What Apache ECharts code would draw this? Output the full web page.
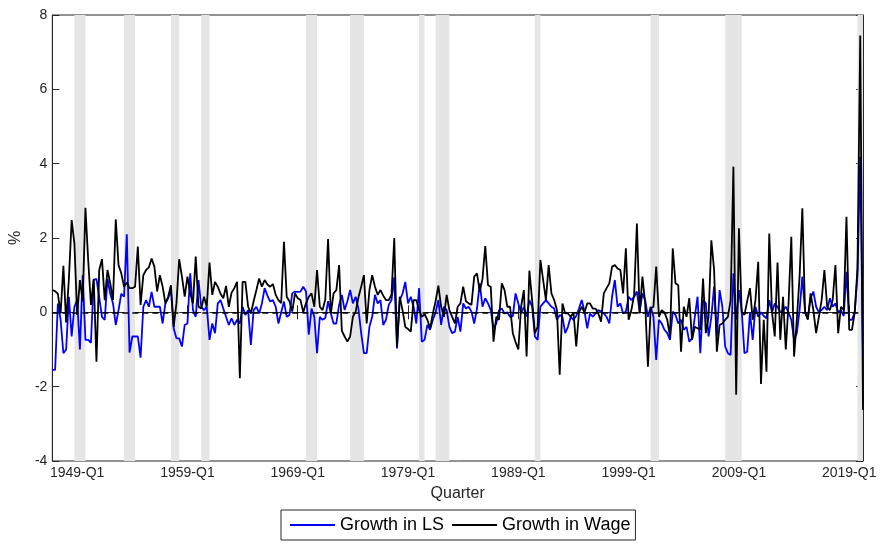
<!DOCTYPE html>
<html>
<head>
<meta charset="utf-8">
<script src="https://cdn.jsdelivr.net/npm/echarts@6.0.0/dist/echarts.min.js"></script>
<style>
  html, body { margin: 0; padding: 0; background: #fff; }
  #chart { width: 882px; height: 546px; }
</style>
</head>
<body>
<div id="chart"></div>
<script>
// quarters from 1946-Q4 to 2020-Q2
var quarters = [];
for (var y = 1946; y <= 2020; y++) {
  for (var q = 1; q <= 4; q++) {
    if (y === 1946 && q < 4) continue;
    if (y === 2020 && q > 2) continue;
    quarters.push(y + '-Q' + q);
  }
}

var tickLabels = ['1949-Q1', '1959-Q1', '1969-Q1', '1979-Q1', '1989-Q1', '1999-Q1', '2009-Q1', '2019-Q1'];

// NBER recessions (peak, trough)
var recessions = [
  ['1948-Q4', '1949-Q4'], ['1953-Q2', '1954-Q2'], ['1957-Q3', '1958-Q2'],
  ['1960-Q2', '1961-Q1'], ['1969-Q4', '1970-Q4'], ['1973-Q4', '1975-Q1'],
  ['1980-Q1', '1980-Q3'], ['1981-Q3', '1982-Q4'], ['1990-Q3', '1991-Q1'],
  ['2001-Q1', '2001-Q4'], ['2007-Q4', '2009-Q2'], ['2019-Q4', '2020-Q2']
];

var lsGrowth = [
  -1.55, -1.55, 0.24, -0.2, -1.1, -1.0, 0.42, -0.65, 0.15, 0.33,
  -1.0, 1.0, -0.74, -0.74, -0.82, 0.87, 0.9, 0.4, -0.12, -0.2,
  0.9, 0.5, 0.24, -0.34, 0.06, 0.5, 0.42, 2.1, -1.08, -0.65,
  -0.65, -0.65, -1.22, 0.15, 0.33, 0.15, 0.55, 0.15, 0.15, 0.15,
  -0.3, 0.24, 0.38, 0.6, -0.43, -0.7, -0.7, -0.92, -0.34, -0.3,
  1.05, 0.06, -0.12, 0.87, 0.15, 0.06, 0.15, -0.74, -0.3, -0.56,
  0.24, 0.33, 0.1, -0.12, -0.34, -0.16, -0.34, -0.2, -0.3, 0.15,
  -0.07, 0.06, -0.88, 0.06, 0.15, -0.03, 0.24, 0.65, 0.45, 0.29,
  0.33, 0.15, -0.3, 0.0, 0.29, -0.12, -0.07, 0.51, 0.56, 0.55,
  0.56, 0.69, 0.56, -0.6, 0.1, -0.12, -1.1, -0.12, -0.2, -0.15,
  0.3, -0.03, -0.3, -0.3, 0.2, 0.47, 0.06, 0.3, 0.6, 0.24,
  0.42, 0.1, -0.56, -1.1, -1.1, -0.39, -0.12, 0.47, 0.24, 0.33,
  -0.34, -0.2, 0.2, 0.33, 0.94, -0.97, 0.33, 0.5, 0.82, 0.24,
  0.42, 0.15, -0.3, 0.65, -0.79, -0.74, -0.34, -0.47, -0.2, 0.0,
  0.33, -0.34, 0.15, 0.06, -0.39, -0.56, -0.52, -0.12, -0.52, 0.24,
  0.1, 0.15, 0.02, -0.3, 0.1, 0.78, 0.15, 0.38, 0.24, 0.06,
  -0.43, -0.3, 0.06, 0.1, -0.03, 0.0, -0.12, -0.1, 0.51, 0.24,
  -0.03, 0.15, -0.12, 0.33, 0.15, -0.65, -0.74, 0.15, 0.24, 0.33,
  0.24, 0.15, 0.1, -0.2, -0.07, -0.12, -0.56, -0.39, -0.12, -0.2,
  -0.1, 0.1, 0.33, 0.02, -0.43, -0.03, -0.12, -0.03, 0.06, 0.02,
  -0.03, -0.12, -0.3, 0.42, 0.87, 0.15, 0.24, -0.03, 0.02, 0.42,
  0.33, 0.42, 0.56, 0.02, 0.51, 0.33, -0.12, 0.15, -0.12, -1.28,
  -0.2, -0.3, -0.47, -0.56, -0.74, 0.02, -0.07, -0.3, -0.2, -0.47,
  -0.39, -0.79, -0.7, -0.12, 0.42, -1.1, 0.33, 0.24, -0.65, -0.12,
  0.69, -0.65, 0.6, 0.15, -0.92, -1.1, -1.15, 1.05, -0.2, 0.6,
  0.06, -1.1, -1.06, 0.0, -0.74, 0.15, -0.12, 0.0, -0.1, -0.16,
  0.33, 0.0, 0.24, 0.15, 0.0, 0.06, 0.15, 0.0, -0.2, -0.74,
  -0.56, 0.06, 0.96, 0.0, -0.16, 0.38, 0.56, 0.15, 0.0, 0.06,
  0.15, 0.06, 0.38, 0.15, 0.24, 0.0, 0.06, -0.1, 1.09, -0.2,
  -0.2, 0.0, 1.0, 4.18, -1.2
];

var wageGrowth = [
  0.6, 0.57, 0.5, -0.03, 1.25, -0.27, 0.9, 2.48, 1.85, -0.07,
  0.87, 0.3, 2.81, 1.4, 0.2, 0.9, -1.33, 1.14, 1.43, 0.33,
  1.14, 0.78, 0.33, 2.5, 1.27, 1.05, 0.69, 0.8, 0.65, 0.65,
  0.69, 1.77, 0.2, 1.0, 1.14, 1.21, 1.45, 1.23, 0.56, 1.0,
  0.69, 0.24, 0.42, 0.73, -0.39, 0.24, 1.43, 0.96, 0.42, 0.96,
  0.51, 0.24, 1.5, 0.15, 0.1, 0.42, 0.15, 1.34, 0.47, 0.82,
  0.69, 0.5, 0.38, 0.71, 0.15, 0.53, 0.65, 0.82, -1.77, 0.82,
  0.82, 0.15, -0.03, 0.3, 0.6, 0.91, 0.69, 0.87, 0.75, 0.69,
  0.76, 0.47, 0.33, 0.25, 1.9, 0.42, 0.3, 0.02, 0.51, 0.38,
  0.33, 0.0, 0.25, 0.42, 0.51, 0.15, 1.14, 0.15, 0.06, 0.35,
  1.97, -0.03, 0.51, 0.6, 1.27, -0.5, -0.65, -0.79, -0.65, -0.12,
  0.02, 0.4, 0.69, 1.0, -0.3, 0.6, 1.0, 0.69, 0.47, 0.6,
  0.45, 0.33, 0.33, 0.47, 2.0, -0.92, 0.42, 0.06, -0.39, -0.45,
  -0.52, 0.33, 0.33, 0.06, -0.12, -0.05, -0.2, -0.43, -0.03, 0.3,
  0.72, 0.15, -0.12, 0.47, 0.06, -0.12, -0.3, 0.15, 0.24, 0.69,
  0.3, 0.24, 0.2, 0.96, 1.05, 0.56, 0.9, 1.78, 0.73, 0.69,
  -0.79, -0.12, -0.2, 0.78, 0.6, 0.15, 0.15, -0.56, -0.8, -1.0,
  0.15, 0.6, -1.19, 1.12, 0.33, -0.56, -0.39, 1.41, 0.87, 0.33,
  1.27, 0.51, 0.33, 0.06, -1.68, 0.24, -0.03, -0.03, -0.12, 0.0,
  -0.92, 0.0, 0.15, 0.0, 0.24, 0.24, 0.1, 0.1, -0.03, -0.25,
  0.51, 0.65, 0.78, 1.23, 1.27, 1.18, 1.14, 0.51, 1.72, -0.2,
  0.06, 0.47, 2.39, -0.03, 0.96, 0.24, -1.46, 0.1, 0.15, 1.23,
  -0.12, 0.06, 0.0, -0.2, -0.65, 1.72, 0.78, 0.73, -1.06, 0.15,
  -0.12, 0.38, -0.74, -0.39, -0.43, -0.47, 0.91, -0.56, -0.12, 1.94,
  1.14, -1.06, -0.34, -0.3, -0.2, -0.12, 0.33, 3.92, -2.22, 2.26,
  0.0, -0.07, 0.3, 0.65, -0.2, 0.33, 1.36, -1.93, -0.2, -1.6,
  2.12, 0.0, -0.65, 1.34, -0.74, 0.42, -1.0, 0.24, 2.03, -1.19,
  -0.2, 0.96, 2.8, 0.0, -0.2, 0.51, 0.06, -0.56, -0.12, 0.33,
  1.14, 0.15, 0.06, 0.33, 1.27, -0.56, 0.15, 0.06, 2.57, -0.47,
  -0.47, 0.0, 1.2, 7.45, -2.63
];

var axisColor = '#262626';
var fontFamily = 'Liberation Sans, Arial, Helvetica, sans-serif';
var isTick = function (idx, val) { return tickLabels.indexOf(val) >= 0; };

var myChart = echarts.init(document.getElementById('chart'));
myChart.setOption({
  animation: false,
  textStyle: { fontFamily: fontFamily },
  grid: {
    left: 52, right: 19, top: 15, bottom: 85,
    show: true, borderColor: axisColor, borderWidth: 1
  },
  legend: {
    data: ['Growth in LS', 'Growth in Wage'],
    left: 281, top: 510,
    icon: 'rect',
    itemWidth: 45, itemHeight: 2, itemGap: 8,
    padding: [6, 5, 6, 9],
    borderColor: axisColor, borderWidth: 1,
    textStyle: { fontSize: 18, color: '#000', fontFamily: fontFamily }
  },
  xAxis: [
    {
      type: 'category',
      data: quarters,
      boundaryGap: false,
      name: 'Quarter',
      nameLocation: 'middle',
      nameGap: 25,
      nameTextStyle: { fontSize: 16, color: axisColor },
      axisLine: { lineStyle: { color: axisColor } },
      axisTick: { inside: true, length: 7, interval: isTick, lineStyle: { color: axisColor } },
      axisLabel: { interval: isTick, color: axisColor, fontSize: 14, margin: 5 },
      splitLine: { show: false }
    },
    {
      type: 'category',
      data: quarters,
      boundaryGap: false,
      position: 'top',
      axisLine: { lineStyle: { color: axisColor } },
      axisTick: { inside: true, length: 7, interval: isTick, lineStyle: { color: axisColor } },
      axisLabel: { show: false },
      splitLine: { show: false }
    }
  ],
  yAxis: [
    {
      type: 'value',
      min: -4, max: 8, interval: 2,
      name: '%',
      nameLocation: 'middle',
      nameGap: 23,
      nameRotate: 90,
      nameTextStyle: { fontSize: 16, color: axisColor },
      axisLine: { show: true, lineStyle: { color: axisColor } },
      axisTick: { show: true, inside: true, length: 7, lineStyle: { color: axisColor } },
      axisLabel: { color: axisColor, fontSize: 14, margin: 5 },
      splitLine: { show: false }
    },
    {
      type: 'value',
      min: -4, max: 8, interval: 2,
      position: 'right',
      axisLine: { show: true, lineStyle: { color: axisColor } },
      axisTick: { show: true, inside: true, length: 7, lineStyle: { color: axisColor } },
      axisLabel: { show: false },
      splitLine: { show: false }
    }
  ],
  series: [
    {
      name: 'recessions',
      type: 'line',
      data: quarters.map(function () { return null; }),
      symbol: 'none',
      silent: true,
      z: 1,
      markArea: {
        silent: true,
        itemStyle: { color: '#e5e5e5' },
        data: recessions.map(function (r) { return [{ xAxis: r[0] }, { xAxis: r[1] }]; })
      }
    },
    {
      name: 'Growth in LS',
      type: 'line',
      data: lsGrowth,
      symbol: 'none',
      z: 2,
      lineStyle: { color: '#0000ff', width: 1.8 },
      itemStyle: { color: '#0000ff' }
    },
    {
      name: 'Growth in Wage',
      type: 'line',
      data: wageGrowth,
      symbol: 'none',
      z: 3,
      lineStyle: { color: '#000000', width: 1.8 },
      itemStyle: { color: '#000000' },
      markLine: {
        silent: true,
        symbol: ['none', 'none'],
        label: { show: false },
        lineStyle: { color: '#000', type: [6, 4], width: 1.5 },
        data: [{ yAxis: 0 }]
      }
    }
  ]
});
</script>
</body>
</html>
